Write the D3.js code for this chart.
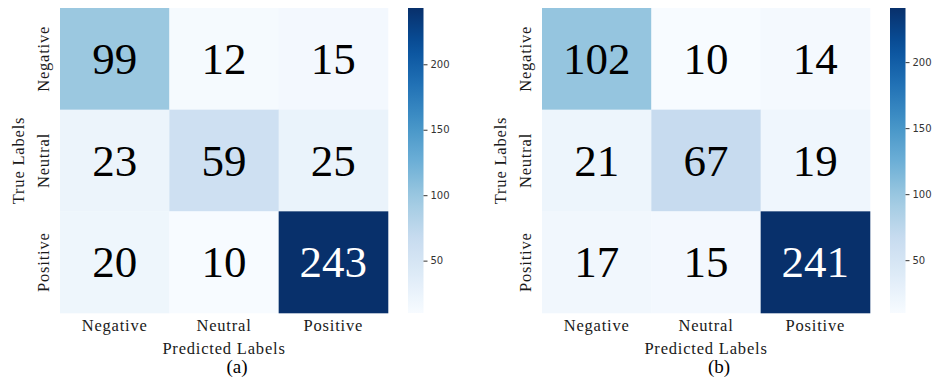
<!DOCTYPE html>
<html>
<head>
<meta charset="utf-8">
<script src="https://cdn.jsdelivr.net/npm/d3@7"></script>
<style>
  html, body { margin: 0; padding: 0; background: #fff; }
  svg { display: block; }
</style>
</head>
<body>
<svg id="chart" width="933" height="385"></svg>
<script>
// ---- data ----
const categories = ["Negative", "Neutral", "Positive"];
const matrixA = [[99, 12, 15], [23, 59, 25], [20, 10, 243]];
const matrixB = [[102, 10, 14], [21, 67, 19], [17, 15, 241]];
const colorbarTicks = [50, 100, 150, 200];
const panelLabels = ["(a)", "(b)"];
const xTitle = "Predicted Labels";
const yTitle = "True Labels";

// matplotlib "Blues" (linear segmented over ColorBrewer stops)
const bluesStops = ["#f7fbff", "#deebf7", "#c6dbef", "#9ecae1", "#6baed6", "#4292c6", "#2171b5", "#08519c", "#08306b"];
const blues = d3.scaleLinear()
  .domain(d3.range(bluesStops.length).map(i => i / (bluesStops.length - 1)))
  .range(bluesStops)
  .interpolate(d3.interpolateRgb);

const svg = d3.select("#chart");
const serif = "'Liberation Serif', 'Times New Roman', serif";
const sans = "'DejaVu Sans', sans-serif";

const panels = [
  { m: matrixA, label: panelLabels[0], x0: 60, x1: 388, cbx: 408 },
  { m: matrixB, label: panelLabels[1], x0: 542, x1: 870, cbx: 890 }
];
const hmTop = 8, hmBottom = 313, cbw = 15.5;

panels.forEach((p, pi) => {
  const flat = p.m.flat();
  const vmin = d3.min(flat), vmax = d3.max(flat);
  const norm = d3.scaleLinear().domain([vmin, vmax]).range([0, 1]);
  const color = v => blues(norm(v));

  const x = d3.scaleBand().domain(categories).range([p.x0, p.x1]);
  const y = d3.scaleBand().domain(categories).range([hmTop, hmBottom]);

  const g = svg.append("g");
  const cells = [];
  p.m.forEach((row, i) => row.forEach((v, j) => cells.push({ r: categories[i], c: categories[j], v })));

  g.selectAll("rect.cell").data(cells).enter().append("rect")
    .attr("class", "cell")
    .attr("x", d => x(d.c)).attr("y", d => y(d.r))
    .attr("width", x.bandwidth() + 0.3).attr("height", y.bandwidth() + 0.3)
    .attr("fill", d => color(d.v));

  g.selectAll("text.ann").data(cells).enter().append("text")
    .attr("class", "ann")
    .attr("x", d => x(d.c) + x.bandwidth() / 2)
    .attr("y", d => y(d.r) + y.bandwidth() / 2 + 15)
    .attr("text-anchor", "middle")
    .attr("font-family", serif)
    .attr("font-size", 45)
    .attr("fill", d => norm(d.v) > 0.6 ? "#ffffff" : "#000000")
    .text(d => d.v);

  // x tick labels
  g.selectAll("text.xt").data(categories).enter().append("text")
    .attr("class", "xt")
    .attr("x", d => x(d) + x.bandwidth() / 2)
    .attr("y", hmBottom + 18)
    .attr("text-anchor", "middle")
    .attr("font-family", serif).attr("font-size", 16.5)
    .attr("letter-spacing", 0.8)
    .attr("fill", "#1a1a1a")
    .text(d => d);

  // y tick labels (rotated)
  g.selectAll("text.yt").data(categories).enter().append("text")
    .attr("class", "yt")
    .attr("transform", d => `translate(${p.x0 - 11},${y(d) + y.bandwidth() / 2}) rotate(-90)`)
    .attr("text-anchor", "middle")
    .attr("font-family", serif).attr("font-size", 16.5)
    .attr("letter-spacing", 0.8)
    .attr("fill", "#1a1a1a")
    .text(d => d);

  // axis titles
  const cx = (p.x0 + p.x1) / 2;
  g.append("text")
    .attr("x", cx).attr("y", hmBottom + 41)
    .attr("text-anchor", "middle")
    .attr("font-family", serif).attr("font-size", 16.5)
    .attr("letter-spacing", 0.8)
    .attr("fill", "#1a1a1a")
    .text(xTitle);
  g.append("text")
    .attr("transform", `translate(${p.x0 - 36},${(hmTop + hmBottom) / 2}) rotate(-90)`)
    .attr("text-anchor", "middle")
    .attr("font-family", serif).attr("font-size", 16.5)
    .attr("letter-spacing", 0.8)
    .attr("fill", "#1a1a1a")
    .text(yTitle);

  // panel label
  g.append("text")
    .attr("x", cx + 13).attr("y", 373)
    .attr("text-anchor", "middle")
    .attr("font-family", serif).attr("font-size", 19)
    .attr("fill", "#000")
    .text(p.label);

  // colorbar
  const gradId = "grad" + pi;
  const grad = svg.append("defs").append("linearGradient")
    .attr("id", gradId).attr("x1", 0).attr("y1", 1).attr("x2", 0).attr("y2", 0);
  d3.range(0, 1.0001, 0.05).forEach(t => {
    grad.append("stop").attr("offset", t).attr("stop-color", blues(t));
  });
  g.append("rect")
    .attr("x", p.cbx).attr("y", hmTop)
    .attr("width", cbw).attr("height", hmBottom - hmTop)
    .attr("fill", `url(#${gradId})`);

  const cy = d3.scaleLinear().domain([vmin, vmax]).range([hmBottom, hmTop]);
  const axis = d3.axisRight(cy).tickValues(colorbarTicks).tickSize(4).tickPadding(3);
  const ag = g.append("g")
    .attr("transform", `translate(${p.cbx + cbw},0)`)
    .call(axis);
  ag.select(".domain").remove();
  ag.selectAll(".tick line").attr("stroke", "#333").attr("stroke-width", 1);
  ag.selectAll(".tick text")
    .attr("font-family", sans).attr("font-size", 10)
    .attr("fill", "#333");
});
</script>
</body>
</html>
